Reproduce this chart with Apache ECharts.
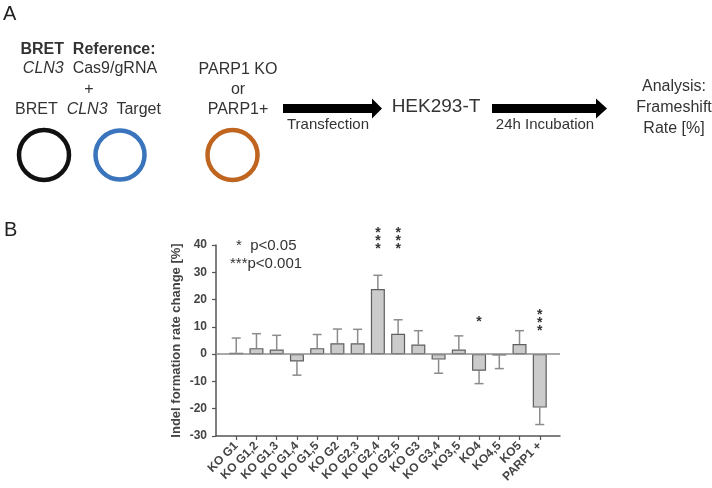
<!DOCTYPE html>
<html><head><meta charset="utf-8">
<script src="https://cdn.jsdelivr.net/npm/echarts@6/dist/echarts.min.js"></script>
<style>html,body{margin:0;padding:0;background:#fff}#c{width:712px;height:488px}</style>
</head><body><div id="c"></div>
<script>
// ---- data ----
const categories = ['KO G1','KO G1,2','KO G1,3','KO G1,4','KO G1,5','KO G2','KO G2,3','KO G2,4','KO G2,5','KO G3','KO G3,4','KO3,5','KO4','KO4,5','KO5','PARP1 +'];
const changeValues = [0.5, 2.2, 1.7, -2.7, 2.2, 4.0, 4.0, 23.9, 7.5, 3.5, -2.0, 1.7, -6.1, -0.5, 3.7, -19.6];
const errorValues  = [5.4, 5.3, 5.2, 5.0, 5.0, 5.2, 5.1, 5.0, 5.1, 5.1, 5.0, 5.0, 4.7, 4.8, 4.9, 6.2];
const sigIndex = [7, 8, 12, 15];
const sigMarks = ['***', '***', '*', '***'];
const sigLevel = [42.5, 42.5, 13.0, 12.5];
const yTicks = { min: -30, max: 40, step: 10 };
const yTitle = 'Indel formation rate change [%]';
const legendLines = ['*  p<0.05', '***p<0.001'];

const FF = '"Liberation Sans", Arial, sans-serif';
const TXT = '#333';
const catIdx = categories.map((c, i) => i);

function t(x, y, text, size, extra) {
  return {
    type: 'text', x: x, y: y,
    style: Object.assign({
      text: text, fontSize: size, fontFamily: FF, fill: TXT,
      align: 'center', verticalAlign: 'middle',
      textAlign: 'center', textVerticalAlign: 'middle'
    }, extra || {})
  };
}
function arrow(x0, x1, headStart, cy) {
  return { type: 'polygon', shape: { points: [
    [x0, cy - 4.5], [headStart, cy - 4.5], [headStart, cy - 10], [x1, cy], [headStart, cy + 10], [headStart, cy + 4.5], [x0, cy + 4.5]
  ] }, style: { fill: '#000' } };
}

const graphics = [
  t(3, 14, 'A', 20, { align: 'left', textAlign: 'left', fill: '#222' }),
  t(4, 230, 'B', 20, { align: 'left', textAlign: 'left', fill: '#222' }),
  t(88, 50, 'BRET  Reference:', 16, { fontWeight: 'bold' }),
  t(90, 69, '{i|CLN3}  Cas9/gRNA', 16, { rich: { i: { fontStyle: 'italic', fontSize: 16, fontFamily: FF, fill: TXT } } }),
  t(89, 90, '+', 16),
  t(88, 110, 'BRET  {i|CLN3}  Target', 16, { rich: { i: { fontStyle: 'italic', fontSize: 16, fontFamily: FF, fill: TXT } } }),
  t(238, 70, 'PARP1 KO', 16),
  t(238, 90, 'or', 16),
  t(238, 110, 'PARP1+', 16),
  { type: 'circle', shape: { cx: 44, cy: 155, r: 25 }, style: { fill: 'none', stroke: '#111', lineWidth: 4.5 } },
  { type: 'circle', shape: { cx: 120, cy: 155, r: 24.5 }, style: { fill: 'none', stroke: '#3a74bd', lineWidth: 4.5 } },
  { type: 'circle', shape: { cx: 232.5, cy: 155, r: 25 }, style: { fill: 'none', stroke: '#c0651f', lineWidth: 4.5 } },
  arrow(283, 382, 372, 108.5),
  t(328, 125, 'Transfection', 15),
  t(436, 107, 'HEK293-T', 19),
  arrow(492, 607, 596, 108.5),
  t(545, 125, '24h Incubation', 15),
  t(674, 87, 'Analysis:', 16),
  t(674, 108, 'Frameshift', 16),
  t(674, 129, 'Rate [%]', 16),
  t(236, 246, legendLines[0], 15, { align: 'left', textAlign: 'left' }),
  t(230, 264, legendLines[1], 15, { align: 'left', textAlign: 'left' })
];

const chart = echarts.init(document.getElementById('c'), null, { renderer: 'canvas' });
chart.setOption({
  animation: false,
  backgroundColor: '#fff',
  graphic: graphics,
  grid: { left: 216, top: 245, width: 344, height: 191, containLabel: false },
  xAxis: {
    type: 'value', min: -1, max: categories.length, interval: 1,
    splitLine: { show: false },
    axisLine: { show: true, onZero: false, lineStyle: { color: '#555', width: 1.5 } },
    axisTick: { show: true, customValues: catIdx, length: 4, lineStyle: { color: '#555', width: 1.2 } },
    axisLabel: {
      customValues: catIdx, rotate: 45, margin: 8,
      formatter: v => categories[v] || '',
      fontFamily: FF, fontWeight: 'bold', fontSize: 12, color: '#444'
    }
  },
  yAxis: {
    type: 'value', min: yTicks.min, max: yTicks.max, interval: yTicks.step,
    name: yTitle, nameLocation: 'middle', nameGap: 33,
    nameTextStyle: { fontFamily: FF, fontWeight: 'bold', fontSize: 13, color: '#444' },
    splitLine: { show: false },
    axisLine: { show: true, onZero: false, lineStyle: { color: '#555', width: 1.5 } },
    axisTick: { show: true, length: 4, lineStyle: { color: '#555', width: 1.2 } },
    axisLabel: { fontFamily: FF, fontWeight: 'bold', fontSize: 12, color: '#444', margin: 9 }
  },
  series: [
    {
      type: 'custom',
      z: 1,
      data: changeValues.map((v, i) => [i, v, errorValues[i]]),
      renderItem: function (params, api) {
        const x = api.value(0), v = api.value(1), e = api.value(2);
        const tip = v >= 0 ? v + e : v - e;
        const p0 = api.coord([x, v]);
        const p1 = api.coord([x, tip]);
        const st = { stroke: '#8c8c8c', lineWidth: 1.5 };
        return { type: 'group', children: [
          { type: 'line', shape: { x1: p0[0], y1: p0[1], x2: p1[0], y2: p1[1] }, style: st },
          { type: 'line', shape: { x1: p1[0] - 4.5, y1: p1[1], x2: p1[0] + 4.5, y2: p1[1] }, style: st }
        ] };
      }
    },
    {
      type: 'bar',
      z: 2,
      barWidth: 14,
      data: changeValues.map((v, i) => [i, v]),
      itemStyle: { color: '#cbcbcb', borderColor: '#5e5e5e', borderWidth: 1.2 },
      markLine: {
        silent: true, symbol: 'none', label: { show: false },
        lineStyle: { color: '#8c8c8c', width: 1.5, type: 'solid' },
        data: [{ yAxis: 0 }]
      }
    },
    {
      type: 'custom',
      z: 3,
      clip: false,
      data: sigIndex.map((idx, k) => [idx, sigLevel[k], sigMarks[k].length]),
      renderItem: function (params, api) {
        const x = api.value(0), y = api.value(1), n = api.value(2);
        const c = api.coord([x, y]);
        const kids = [];
        for (let j = 0; j < n; j++) {
          kids.push({ type: 'text', x: c[0], y: c[1] + (j - (n - 1) / 2) * 8 + 3,
            style: { text: '*', fontSize: 14, fontFamily: FF, fontWeight: 'bold', fill: '#333',
              align: 'center', verticalAlign: 'middle', textAlign: 'center', textVerticalAlign: 'middle' } });
        }
        return { type: 'group', children: kids };
      }
    }
  ]
});
</script>
</body></html>
